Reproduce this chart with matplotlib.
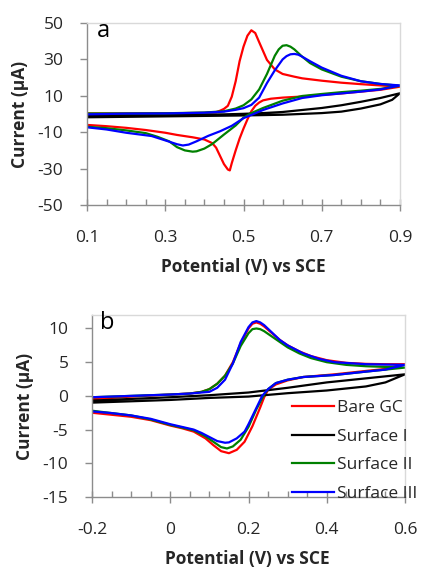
import matplotlib
matplotlib.use("Agg")
import matplotlib.pyplot as plt
from matplotlib.ticker import MultipleLocator

plt.rcParams["font.family"] = ["Open Sans", "DejaVu Sans"]
plt.rcParams["axes.unicode_minus"] = False

labels = ["Bare GC", "Surface I", "Surface II", "Surface III"]
colors = ["#ff0000", "#000000", "#008000", "#0000ff"]

# ---- panel a: potential (V) and current (uA), forward scan then reverse scan
a_red_v = [0.10, 0.20, 0.30, 0.40, 0.43, 0.44, 0.45, 0.46, 0.47, 0.48, 0.49, 0.50, 0.51, 0.52,
           0.53, 0.54, 0.56, 0.58, 0.60, 0.63, 0.65, 0.70, 0.75, 0.80, 0.85, 0.90,
           0.85, 0.80, 0.75, 0.70, 0.65, 0.60, 0.57, 0.55, 0.54, 0.53, 0.52, 0.51, 0.50,
           0.49, 0.48, 0.47, 0.465, 0.46, 0.45, 0.44, 0.43, 0.42, 0.40, 0.37, 0.33, 0.30,
           0.25, 0.20, 0.15, 0.10]
a_red_i = [0.3, 0.3, 0.4, 0.6, 1.0, 1.8, 2.8, 4.5, 9.5, 18.0, 29.0, 37.0, 43.0, 46.0,
           44.5, 39.5, 29.7, 24.5, 22.0, 20.5, 19.6, 18.3, 17.2, 16.4, 15.7, 15.0,
           13.3, 12.3, 11.3, 10.5, 9.6, 9.0, 8.4, 7.5, 6.3, 4.5, 1.5, -3.0, -8.0,
           -13.5, -20.0, -27.0, -31.0, -30.5, -27.5, -23.0, -18.5, -16.0, -14.0, -12.8, -11.5, -10.3,
           -8.8, -7.6, -6.7, -6.0]

a_blk_v = [0.10, 0.30, 0.45, 0.50, 0.55, 0.60, 0.65, 0.70, 0.75, 0.80, 0.85, 0.90,
           0.88, 0.85, 0.80, 0.75, 0.70, 0.60, 0.50, 0.30, 0.10]
a_blk_i = [-0.8, -0.5, -0.2, 0.1, 0.5, 1.1, 2.2, 3.3, 4.8, 6.7, 8.8, 11.4,
           7.8, 5.3, 3.0, 1.3, 0.5, -0.4, -0.8, -1.3, -1.8]

a_grn_v = [0.10, 0.20, 0.30, 0.40, 0.45, 0.48, 0.50, 0.52, 0.54, 0.56, 0.57, 0.58, 0.59, 0.60,
           0.61, 0.62, 0.63, 0.65, 0.67, 0.70, 0.75, 0.80, 0.85, 0.90,
           0.85, 0.80, 0.75, 0.70, 0.65, 0.60, 0.55, 0.52, 0.50, 0.48, 0.45, 0.42, 0.40,
           0.38, 0.37, 0.35, 0.33, 0.31, 0.28, 0.25, 0.20, 0.15, 0.10]
a_grn_i = [0.3, 0.3, 0.4, 0.8, 1.5, 3.0, 4.8, 8.0, 13.5, 22.0, 27.0, 32.0, 35.5, 37.5,
           37.8, 37.0, 35.5, 31.5, 28.0, 24.5, 20.5, 18.0, 16.5, 15.5,
           13.8, 12.8, 12.0, 11.0, 9.9, 7.3, 3.3, 0.5, -2.0, -6.3, -11.3, -16.5, -19.0,
           -20.5, -20.7, -20.0, -18.2, -15.0, -12.5, -10.5, -9.0, -7.8, -7.0]

a_blu_v = [0.10, 0.20, 0.30, 0.40, 0.45, 0.48, 0.50, 0.52, 0.54, 0.56, 0.58, 0.60, 0.61, 0.62,
           0.63, 0.64, 0.65, 0.67, 0.70, 0.75, 0.80, 0.85, 0.90,
           0.85, 0.80, 0.75, 0.70, 0.65, 0.60, 0.55, 0.50, 0.47, 0.44, 0.41, 0.38, 0.36,
           0.345, 0.33, 0.30, 0.265, 0.20, 0.15, 0.10]
a_blu_i = [-0.2, 0.2, 0.3, 0.7, 1.3, 2.3, 3.2, 5.0, 9.0, 17.0, 24.0, 30.0, 31.8, 32.8,
           33.0, 32.6, 31.5, 29.0, 25.5, 21.0, 18.0, 16.5, 15.7,
           13.5, 12.3, 11.3, 10.3, 8.8, 5.8, 2.2, -2.3, -6.5, -9.5, -12.0, -15.0, -16.8,
           -17.3, -16.6, -14.5, -12.1, -10.3, -8.5, -7.3]

# ---- panel b
b_red_v = [-0.20, -0.10, 0.00, 0.05, 0.08, 0.10, 0.12, 0.14, 0.16, 0.18, 0.20, 0.21, 0.22,
           0.23, 0.24, 0.26, 0.28, 0.30, 0.33, 0.36, 0.40, 0.45, 0.50, 0.55, 0.60,
           0.55, 0.50, 0.42, 0.34, 0.30, 0.27, 0.25, 0.24, 0.23, 0.21, 0.19, 0.17, 0.15,
           0.13, 0.11, 0.09, 0.06, 0.03, 0.00, -0.05, -0.10, -0.15, -0.20]
b_red_i = [-0.5, -0.1, 0.2, 0.35, 0.6, 1.0, 1.8, 3.0, 5.0, 7.8, 10.0, 10.7, 10.9,
           10.7, 10.3, 9.3, 8.3, 7.5, 6.6, 5.9, 5.3, 4.9, 4.75, 4.7, 4.7,
           4.0, 3.7, 3.2, 2.8, 2.3, 1.7, 0.9, -0.2, -1.7, -4.5, -6.8, -8.0, -8.5,
           -8.2, -7.3, -6.3, -5.3, -4.8, -4.4, -3.6, -3.1, -2.8, -2.5]

b_blk_v = [-0.20, 0.00, 0.10, 0.20, 0.30, 0.40, 0.50, 0.60,
           0.55, 0.50, 0.40, 0.30, 0.20, 0.10, 0.00, -0.20]
b_blk_i = [-0.7, -0.2, 0.1, 0.5, 1.2, 2.0, 2.6, 3.2,
           2.0, 1.4, 0.8, 0.4, -0.1, -0.3, -0.6, -1.0]

b_grn_v = [-0.20, -0.10, 0.00, 0.05, 0.08, 0.10, 0.12, 0.14, 0.16, 0.18, 0.20, 0.21, 0.22,
           0.23, 0.24, 0.26, 0.28, 0.30, 0.33, 0.36, 0.40, 0.45, 0.50, 0.55, 0.60,
           0.55, 0.50, 0.42, 0.34, 0.30, 0.27, 0.25, 0.24, 0.22, 0.20, 0.18, 0.16, 0.145,
           0.13, 0.11, 0.09, 0.06, 0.03, 0.00, -0.05, -0.10, -0.15, -0.20]
b_grn_i = [-0.2, 0.0, 0.2, 0.35, 0.6, 1.0, 1.8, 3.0, 4.8, 7.4, 9.3, 9.9, 10.0,
           9.9, 9.6, 8.8, 8.0, 7.2, 6.3, 5.6, 5.0, 4.6, 4.4, 4.3, 4.2,
           3.9, 3.6, 3.1, 2.8, 2.4, 1.9, 1.0, 0.2, -2.0, -4.6, -6.5, -7.5, -7.8,
           -7.6, -6.8, -6.0, -5.1, -4.7, -4.3, -3.5, -2.9, -2.55, -2.2]

b_blu_v = [-0.20, -0.10, 0.00, 0.05, 0.08, 0.10, 0.12, 0.14, 0.16, 0.18, 0.20, 0.21, 0.22,
           0.23, 0.24, 0.26, 0.28, 0.30, 0.34, 0.38, 0.42, 0.50, 0.60,
           0.55, 0.50, 0.42, 0.34, 0.30, 0.27, 0.25, 0.235, 0.22, 0.20, 0.19, 0.17, 0.15,
           0.14, 0.12, 0.10, 0.08, 0.06, 0.03, 0.00, -0.05, -0.10, -0.15, -0.20]
b_blu_i = [-0.2, 0.0, 0.2, 0.35, 0.5, 0.6, 1.2, 2.4, 4.8, 8.0, 10.2, 10.9, 11.1,
           10.9, 10.5, 9.4, 8.3, 7.5, 6.3, 5.5, 5.0, 4.7, 4.6,
           3.9, 3.6, 3.1, 2.8, 2.4, 1.9, 1.0, 0.0, -1.8, -4.2, -5.3, -6.3, -6.9,
           -6.95, -6.7, -6.1, -5.5, -5.0, -4.6, -4.2, -3.4, -2.9, -2.55, -2.3]

panel_a = [(a_red_v, a_red_i), (a_blk_v, a_blk_i), (a_grn_v, a_grn_i), (a_blu_v, a_blu_i)]
panel_b = [(b_red_v, b_red_i), (b_blk_v, b_blk_i), (b_grn_v, b_grn_i), (b_blu_v, b_blu_i)]

W, H = 428, 568
fig = plt.figure(figsize=(W / 100, H / 100), dpi=100)


def setup_axes(ax, xlim, ylim, xlabels, ystep):
    ax.set_xlim(*xlim)
    ax.set_ylim(*ylim)
    ax.xaxis.set_minor_locator(MultipleLocator(0.05))
    ax.yaxis.set_major_locator(MultipleLocator(ystep))
    ax.set_xticks(xlabels)
    ax.set_xticklabels([("%g" % v) for v in xlabels])
    for side in ["left", "bottom"]:
        ax.spines[side].set_color("#8c8c8c")
        ax.spines[side].set_linewidth(1.0)
    for side in ["top", "right"]:
        ax.spines[side].set_color("#d9d9d9")
        ax.spines[side].set_linewidth(1.0)
    ax.tick_params(axis="x", which="major", direction="inout", length=8, width=1,
                   color="#8c8c8c", labelsize=12.5, pad=14, labelcolor="#262626")
    ax.tick_params(axis="x", which="minor", direction="in", length=4, width=1,
                   color="#8c8c8c")
    ax.tick_params(axis="y", which="major", direction="out", length=5, width=1,
                   color="#8c8c8c", labelsize=12.5, pad=12, labelcolor="#262626")


ax_a = fig.add_axes([87 / W, 1 - 205 / H, 313 / W, 182 / H])
for (v, i), c in zip(panel_a, colors):
    ax_a.plot(v, i, color=c, lw=1.6)
setup_axes(ax_a, (0.1, 0.9), (-50, 50), [0.1, 0.3, 0.5, 0.7, 0.9], 20)
ax_a.set_yticks([-50, -30, -10, 10, 30, 50])

ax_b = fig.add_axes([92 / W, 1 - 497 / H, 313 / W, 182 / H])
lines = []
for (v, i), c, lab in zip(panel_b, colors, labels):
    ln, = ax_b.plot(v, i, color=c, lw=1.6, label=lab)
    lines.append(ln)
setup_axes(ax_b, (-0.2, 0.6), (-15, 12), [-0.2, 0.0, 0.2, 0.4, 0.6], 5)
ax_b.set_yticks([-15, -10, -5, 0, 5, 10])
ax_b.set_xticklabels(["-0.2", "0", "0.2", "0.4", "0.6"])

leg = ax_b.legend(handles=lines, loc="upper left", bbox_to_anchor=(292 / W, 1 - 400 / H),
                  bbox_transform=fig.transFigure, frameon=False, fontsize=12.5,
                  handlelength=2.4, handletextpad=0.2, labelspacing=0.72,
                  borderpad=0, borderaxespad=0)
for t in leg.get_texts():
    t.set_color("#262626")

# axis titles and panel letters
fig.text(20 / W, 1 - 114 / H, "Current (\u03bcA)", rotation=90, ha="center", va="center",
         fontsize=12.5, fontweight="bold", color="#262626")
fig.text(25 / W, 1 - 406 / H, "Current (\u03bcA)", rotation=90, ha="center", va="center",
         fontsize=12.5, fontweight="bold", color="#262626")
fig.text(243 / W, 1 - 267 / H, "Potential (V) vs SCE", ha="center", va="center",
         fontsize=12.5, fontweight="bold", color="#262626")
fig.text(247 / W, 1 - 559 / H, "Potential (V) vs SCE", ha="center", va="center",
         fontsize=12.5, fontweight="bold", color="#262626")
fig.text(103 / W, 1 - 37 / H, "a", ha="center", va="baseline", fontsize=17, color="#000000")
fig.text(107 / W, 1 - 329 / H, "b", ha="center", va="baseline", fontsize=17, color="#000000")

fig.savefig("out.png", dpi=100)
